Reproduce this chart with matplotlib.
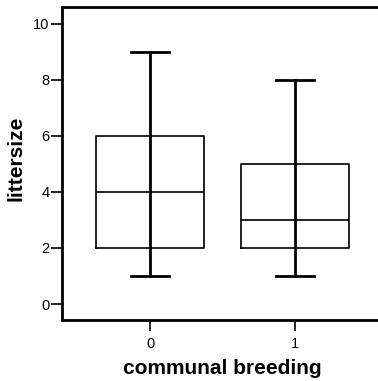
import matplotlib
matplotlib.use('Agg')
import matplotlib.pyplot as plt

plt.rcParams['font.family'] = ['Liberation Sans', 'DejaVu Sans']

# box statistics per group
groups = ['0', '1']
mins = [1, 1]
q1s = [2, 2]
medians = [4, 3]
q3s = [6, 5]
maxs = [9, 8]

stats = []
for g, lo, a, m, b, hi in zip(groups, mins, q1s, medians, q3s, maxs):
    stats.append({'label': g, 'whislo': lo, 'q1': a, 'med': m, 'q3': b, 'whishi': hi})

positions = [0, 1]

fig = plt.figure(figsize=(3.78, 3.81), dpi=100)
ax = fig.add_axes([62 / 378, 1 - 320 / 381, (383 - 62) / 378, (320 - 7) / 381])

ax.bxp(stats, positions=positions, widths=0.75, showfliers=False,
       boxprops=dict(color='black', linewidth=1.2),
       medianprops=dict(color='black', linewidth=1.2),
       whiskerprops=dict(color='black', linewidth=2),
       capprops=dict(color='black', linewidth=2),
       capwidths=0.26)
# whisker line runs through the box as well
ax.vlines(positions, q1s, q3s, color='black', linewidth=2)

ax.set_xlim(-0.607, 1.607)
ax.set_ylim(-0.57, 10.6)
ax.set_yticks([0, 2, 4, 6, 8, 10])
ax.set_xticks(positions)
ax.set_xticklabels(groups)

for s in ['left', 'top', 'bottom']:
    ax.spines[s].set_linewidth(2)
ax.spines['right'].set_visible(False)

ax.tick_params(axis='both', direction='out', length=8, width=1.2, labelsize=10.5)
ax.tick_params(axis='y', pad=1)
ax.tick_params(axis='x', pad=4)
ax.set_xlabel('communal breeding', fontsize=15, fontweight='bold', labelpad=6)
ax.set_ylabel('littersize', fontsize=15, fontweight='bold')
ax.yaxis.set_label_coords(-0.115, 0.515)

fig.savefig('out.png', dpi=100)
